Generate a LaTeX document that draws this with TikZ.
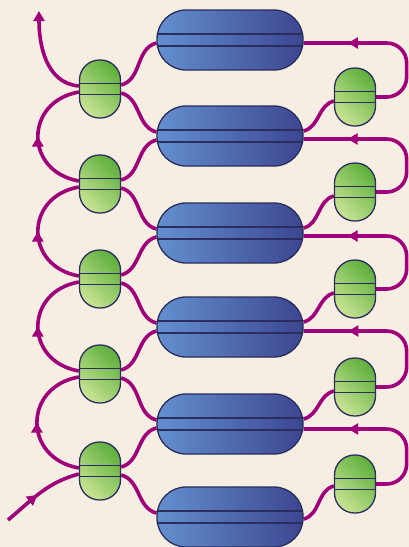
\documentclass[tikz,border=0pt]{standalone}
\usetikzlibrary{arrows.meta,decorations.markings}
\definecolor{paper}{RGB}{246,238,226}
\definecolor{flowcol}{RGB}{160,0,122}
\definecolor{edgecol}{RGB}{43,45,92}
\definecolor{bluelight}{RGB}{99,144,207}
\definecolor{bluedark}{RGB}{60,70,144}
\definecolor{greenlight}{RGB}{198,226,146}
\definecolor{greendark}{RGB}{96,176,62}
\pgfdeclarelayer{bg}
\pgfsetlayers{bg,main}
\begin{document}
\begin{tikzpicture}[x=1pt, y=1pt,
  bluepill/.style={draw=edgecol, line width=1.3pt, rounded corners=29pt,
    minimum width=146pt, minimum height=60pt, inner sep=0pt,
    left color=bluelight, right color=bluedark,
    path picture={\draw[edgecol, line width=1.1pt]
      ([yshift=6pt]path picture bounding box.west) -- ([yshift=6pt]path picture bounding box.east)
      ([yshift=-6pt]path picture bounding box.west) -- ([yshift=-6pt]path picture bounding box.east);}},
  greenpill/.style={draw=edgecol, line width=1.3pt, rounded corners=20pt,
    minimum width=41pt, minimum height=58pt, inner sep=0pt,
    top color=greendark, bottom color=greenlight, shading angle=-45,
    path picture={\draw[edgecol, line width=1.1pt]
      ([yshift=5.5pt]path picture bounding box.west) -- ([yshift=5.5pt]path picture bounding box.east)
      ([yshift=-5.5pt]path picture bounding box.west) -- ([yshift=-5.5pt]path picture bounding box.east);}},
  flow/.style={flowcol, line width=3.6pt},
  midarrow/.style={postaction={decorate}, decoration={markings,
    mark=at position #1 with {\arrow{Triangle[length=10pt,width=11pt]}}}}]

\useasboundingbox (0,0) rectangle (409,-547);
\begin{pgfonlayer}{bg}
\fill[paper] (0,0) rectangle (409,-547);
\end{pgfonlayer}

\node (b1)[bluepill] at (230, -40) {};
\node (b2)[bluepill] at (230, -136) {};
\node (b3)[bluepill] at (230, -233) {};
\node (b4)[bluepill] at (230, -327) {};
\node (b5)[bluepill] at (230, -424) {};
\node (b6)[bluepill] at (230, -517) {};

\node (l1)[greenpill] at (100, -89) {};
\node (l2)[greenpill] at (100, -184) {};
\node (l3)[greenpill] at (100, -279) {};
\node (l4)[greenpill] at (100, -374) {};
\node (l5)[greenpill] at (100, -471) {};

\node (r1)[greenpill] at (355, -97) {};
\node (r2)[greenpill] at (355, -192) {};
\node (r3)[greenpill] at (355, -289) {};
\node (r4)[greenpill] at (355, -387) {};
\node (r5)[greenpill] at (355, -484) {};

\coordinate (in) at (8, -520);
\coordinate (out) at (39, -11);

\begin{pgfonlayer}{bg}
\draw[flow, midarrow=0.45] (in) to[out=40, in=195] ([yshift=-3pt]l5.west);
\draw[flow, -{Triangle[length=10pt,width=11pt]}] ([yshift=3pt]l1.west) to[out=175, in=-90] (out);

\draw[flow, midarrow=0.5] ([yshift=3pt]l2.west) to[out=170, in=190, looseness=1.6] ([yshift=-3pt]l1.west);
\draw[flow, midarrow=0.5] ([yshift=3pt]l3.west) to[out=170, in=190, looseness=1.6] ([yshift=-3pt]l2.west);
\draw[flow, midarrow=0.5] ([yshift=3pt]l4.west) to[out=170, in=190, looseness=1.6] ([yshift=-3pt]l3.west);
\draw[flow, midarrow=0.5] ([yshift=3pt]l5.west) to[out=170, in=190, looseness=1.6] ([yshift=-3pt]l4.west);

\draw[flow] ([yshift=4pt]l1.east) to[out=15, in=195] ([yshift=-3pt]b1.west);
\draw[flow] ([yshift=-4pt]l1.east) to[out=-15, in=165] ([yshift=4pt]b2.west);
\draw[flow] ([yshift=4pt]l2.east) to[out=15, in=195] ([yshift=-4pt]b2.west);
\draw[flow] ([yshift=-4pt]l2.east) to[out=-15, in=165] ([yshift=4pt]b3.west);
\draw[flow] ([yshift=4pt]l3.east) to[out=15, in=195] ([yshift=-4pt]b3.west);
\draw[flow] ([yshift=-4pt]l3.east) to[out=-15, in=165] ([yshift=4pt]b4.west);
\draw[flow] ([yshift=4pt]l4.east) to[out=15, in=195] ([yshift=-4pt]b4.west);
\draw[flow] ([yshift=-4pt]l4.east) to[out=-15, in=165] ([yshift=4pt]b5.west);
\draw[flow] ([yshift=4pt]l5.east) to[out=15, in=195] ([yshift=-4pt]b5.west);
\draw[flow] ([yshift=-4pt]l5.east) to[out=-15, in=165] ([yshift=4pt]b6.west);

\draw[flow, rounded corners=20pt, midarrow=0.74] (r1.east) -- ++(30.5,0) |- ([yshift=-3pt]b1.east);
\draw[flow, rounded corners=20pt, midarrow=0.74] (r2.east) -- ++(30.5,0) |- ([yshift=-3pt]b2.east);
\draw[flow, rounded corners=20pt, midarrow=0.74] (r3.east) -- ++(30.5,0) |- ([yshift=-3pt]b3.east);
\draw[flow, rounded corners=20pt, midarrow=0.74] (r4.east) -- ++(30.5,0) |- ([yshift=-4pt]b4.east);
\draw[flow, rounded corners=20pt, midarrow=0.74] (r5.east) -- ++(30.5,0) |- ([yshift=-5pt]b5.east);

\draw[flow] ([yshift=-4pt]r1.west) to[out=195, in=15] ([yshift=5pt]b2.east);
\draw[flow] ([yshift=-4pt]r2.west) to[out=195, in=15] ([yshift=5pt]b3.east);
\draw[flow] ([yshift=-4pt]r3.west) to[out=195, in=15] ([yshift=5pt]b4.east);
\draw[flow] ([yshift=-4pt]r4.west) to[out=195, in=15] ([yshift=5pt]b5.east);
\draw[flow] ([yshift=-2pt]r5.west) to[out=195, in=15] ([yshift=-2pt]b6.east);
\end{pgfonlayer}

\end{tikzpicture}
\end{document}
